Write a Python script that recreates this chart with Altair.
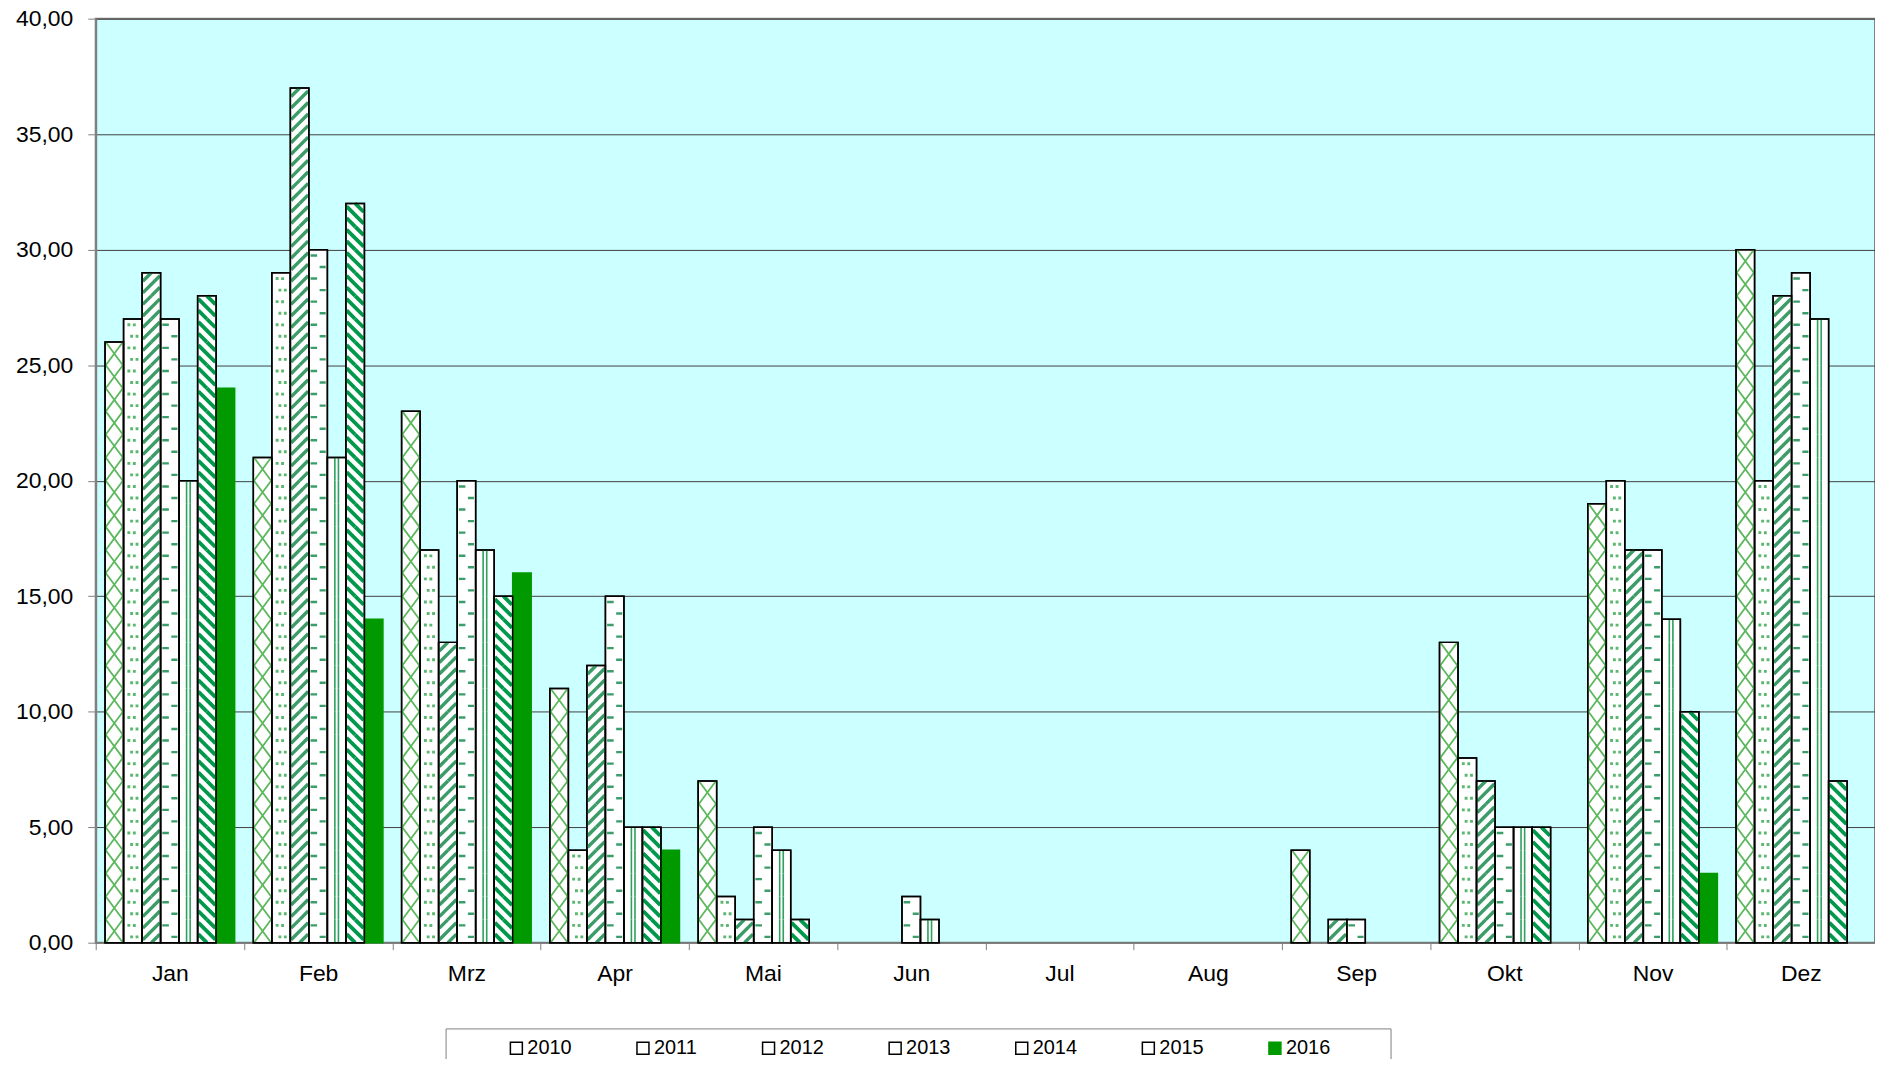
import altair as alt
import pandas as pd

# ---------------- data ----------------
months = ["Jan", "Feb", "Mrz", "Apr", "Mai", "Jun", "Jul", "Aug", "Sep", "Okt", "Nov", "Dez"]
years = ["2010", "2011", "2012", "2013", "2014", "2015", "2016"]

v2010 = [26, 21, 23, 11, 7, 0, 0, 0, 4, 13, 19, 30]
v2011 = [27, 29, 17, 4, 2, 0, 0, 0, 0, 8, 20, 20]
v2012 = [29, 37, 13, 12, 1, 0, 0, 0, 1, 7, 17, 28]
v2013 = [27, 30, 20, 15, 5, 2, 0, 0, 1, 5, 17, 29]
v2014 = [20, 21, 17, 5, 4, 1, 0, 0, 0, 5, 14, 27]
v2015 = [28, 32, 15, 5, 1, 0, 0, 0, 0, 5, 10, 7]
v2016 = [24, 14, 16, 4, 0, 0, 0, 0, 0, 0, 3, 0]

y_ticks = [0, 5, 10, 15, 20, 25, 30, 35, 40]

series = dict(zip(years, [v2010, v2011, v2012, v2013, v2014, v2015, v2016]))

bars = pd.DataFrame(
    [{"month": m, "year": y, "value": v} for y in years for m, v in zip(months, series[y])]
)
# pattern tiles: one tile per unit of every hatched bar
tiles = pd.DataFrame(
    [
        {"month": m, "year": y, "mid": k + 0.5}
        for y in years[:6]
        for m, v in zip(months, series[y])
        for k in range(int(v))
    ]
)

# ---------------- geometry / style ----------------
FONT = "Liberation Sans"
PLOT_W, PLOT_H = 1785, 927
Y_MAX = 40
STEP = PLOT_W / len(months)
OFF_PAD = 0.504
BAR_W = STEP / (len(years) + 2 * OFF_PAD)
TILE_H = PLOT_H / Y_MAX
K = TILE_H / 2.0
XL, XR = -BAR_W / 2 + 0.7, BAR_W / 2 - 0.7
YT, YB = -TILE_H / 2, TILE_H / 2


def f(v):
    return f"{v / K:.4f}"


def seg_path(segs):
    return "".join(f"M{f(a[0])},{f(a[1])}L{f(b[0])},{f(b[1])}" for a, b in segs)


def family(slope, period, phase=0.0):
    segs = []
    for n in range(-40, 41):
        c = phase + n * period
        xa = (YT - c) / slope
        xb = (YB - c) / slope
        lo, hi = max(min(xa, xb), XL), min(max(xa, xb), XR)
        if hi - lo > 1e-3:
            segs.append(((lo, slope * lo + c), (hi, slope * hi + c)))
    return segs


def squares(centers, d):
    out = ""
    for cx, cy in centers:
        x1, y1, x2, y2 = cx - d / 2, cy - d / 2, cx + d / 2, cy + d / 2
        out += f"M{f(x1)},{f(y1)}L{f(x2)},{f(y1)}L{f(x2)},{f(y2)}L{f(x1)},{f(y2)}Z"
    return out


a_cross = TILE_H / (XR - XL)
pat = {
    "2010": dict(path=seg_path(family(-a_cross, TILE_H) + family(a_cross, TILE_H)),
                 color="#5cb85c", width=1.8, filled=False),
    "2011": dict(path=squares([(-4.0, -TILE_H / 4), (1.5, -TILE_H / 4 + 0.1),
                               (-1.2, TILE_H / 4), (4.2, TILE_H / 4)], 2.9),
                 color="#5cb870", width=0, filled=True),
    "2012": dict(path=seg_path(family(-1.0, TILE_H / 2)),
                 color="#3c9c68", width=3.4, filled=False),
    "2013": dict(path=seg_path([((XL + 1.0, -TILE_H / 4), (-1.0, -TILE_H / 4)),
                                ((1.5, TILE_H / 4), (XR - 1.0, TILE_H / 4))]),
                 color="#3a9d6a", width=2.4, filled=False),
    "2014": dict(path=seg_path([((-1.8, YT), (-1.8, YB)), ((1.8, YT), (1.8, YB))]),
                 color="#2ea05e", width=1.6, filled=False),
    "2015": dict(path=seg_path(family(1.0, TILE_H / 2)),
                 color="#00994c", width=3.8, filled=False),
}

x_scale = alt.Scale(domain=months, paddingInner=0, paddingOuter=0)
xo_scale = alt.Scale(domain=years, paddingInner=0, paddingOuter=OFF_PAD)
y_scale = alt.Scale(domain=[0, Y_MAX], nice=False, zero=True)

x_axis = alt.Axis(
    title=None, labelAngle=0, tickBand="extent", tickSize=7, tickColor="#808080",
    tickWidth=1, domainColor="#808080", domainWidth=1.5, labelFont=FONT,
    labelFontSize=23, labelColor="black", labelPadding=13, grid=False,
)
y_axis = alt.Axis(
    title=None, values=y_ticks,
    labelExpr="replace(format(datum.value, '.2f'), '.', ',')",
    tickSize=8, tickColor="#808080", tickWidth=1, domainColor="#808080", domainWidth=2,
    labelFont=FONT, labelFontSize=23, labelColor="black", labelPadding=15,
    grid=True, gridColor="#404040", gridWidth=1,
)

NB = "\u00a0"
ZW = "\u200b"
legend = alt.Legend(
    title=ZW + NB * 8 + ZW, titleOrient="left", titleFontSize=20, titlePadding=6,
    titleFont=FONT, titleColor="white",
    orient="none", legendX=447 - 96, legendY=1030 - 17, direction="horizontal",
    symbolType="square", symbolSize=144, symbolStrokeWidth=1.5,
    labelFont=FONT, labelFontSize=20, labelColor="black", labelOffset=1,
    columnPadding=61, padding=10, fillColor="white", strokeColor="#808080",
    labelExpr=f"datum.label == '2016' ? datum.label + '{NB * 9}{ZW}' : datum.label",
)

fill_scale = alt.Scale(domain=years, range=["white"] * 6 + ["#009900"])
stroke_scale = alt.Scale(domain=years, range=["black"] * 6 + ["#009900"])

X = alt.X("month:N", sort=months, scale=x_scale, axis=x_axis)
XO = alt.XOffset("year:N", sort=years, scale=xo_scale)

base = alt.Chart(bars).transform_filter(alt.datum.value > 0)

layer_fill = base.mark_bar(strokeWidth=1.5).encode(
    x=X,
    xOffset=XO,
    y=alt.Y("value:Q", scale=y_scale, axis=y_axis),
    fill=alt.Fill("year:N", scale=fill_scale, legend=legend),
    stroke=alt.Stroke("year:N", scale=stroke_scale, legend=legend),
)

tile_layers = []
for y in years[:6]:
    p = pat[y]
    if p["filled"]:
        mk = alt.Chart(tiles).mark_point(
            shape=p["path"], size=TILE_H ** 2, filled=True, fill=p["color"],
            strokeWidth=0, opacity=1,
        )
    else:
        mk = alt.Chart(tiles).mark_point(
            shape=p["path"], size=TILE_H ** 2, filled=False, stroke=p["color"],
            strokeWidth=p["width"], strokeCap="butt", opacity=1,
        )
    tile_layers.append(
        mk.transform_filter(alt.datum.year == y).encode(
            x=X,
            xOffset=XO,
            y=alt.Y("mid:Q", scale=y_scale, axis=y_axis),
        )
    )

layer_outline = base.transform_filter(alt.datum.year != "2016").mark_bar(
    fill="white", fillOpacity=0, stroke="black", strokeWidth=1.5
).encode(
    x=X,
    xOffset=XO,
    y=alt.Y("value:Q", scale=y_scale, axis=y_axis),
)

chart = (
    alt.layer(layer_fill, *tile_layers, layer_outline)
    .properties(
        width=PLOT_W, height=PLOT_H,
        padding={"left": 88, "top": 9, "right": 0, "bottom": 115},
        autosize=alt.AutoSizeParams(type="none"),
        background="white",
    )
    .configure_view(fill="#CCFFFF", stroke="#808080", strokeWidth=2)
)

chart.save("out.html", embed_options={"renderer": "svg", "actions": False})
